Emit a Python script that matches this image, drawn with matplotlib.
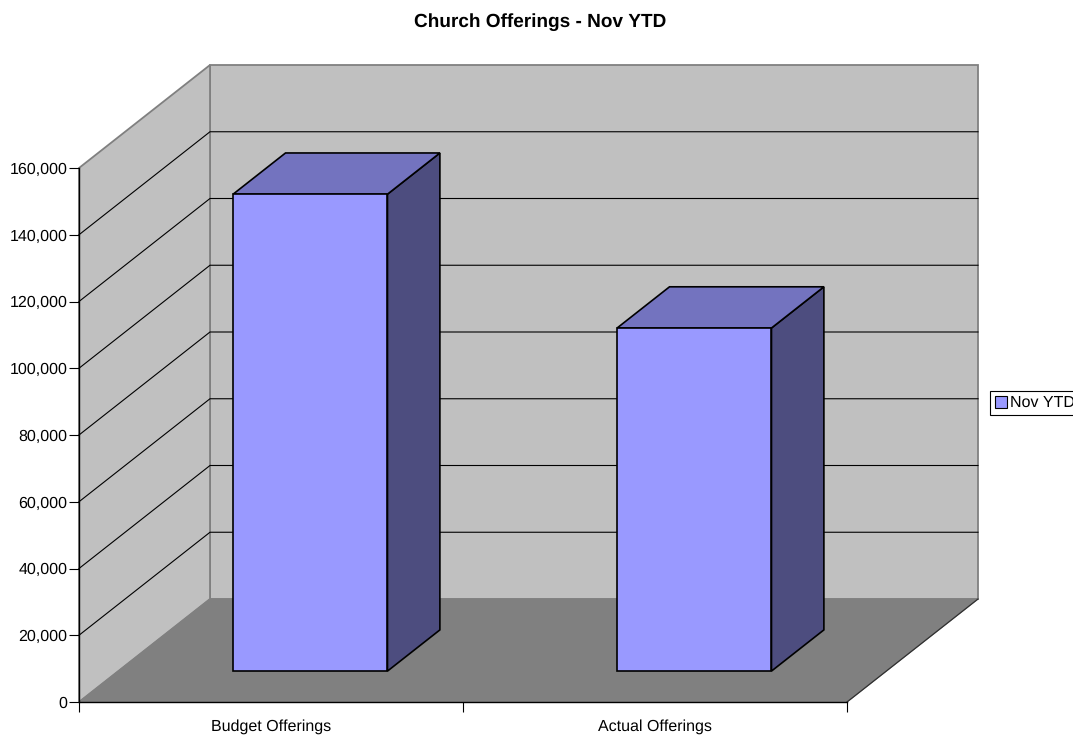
import matplotlib
matplotlib.use("Agg")
import matplotlib.pyplot as plt
from matplotlib.patches import Polygon, Patch

plt.rcParams['font.family'] = ['Liberation Sans', 'DejaVu Sans']
plt.rcParams['text.hinting'] = 'no_hinting'
plt.rcParams['text.hinting_factor'] = 1

categories = ['Budget Offerings', 'Actual Offerings']
values = [142900, 102800]
yticks = [0, 20000, 40000, 60000, 80000, 100000, 120000, 140000, 160000]
series_name = 'Nov YTD'

# oblique offset of the back wall, in data units
DX = 131 / 384
DY = 103 / (534 / 160000)
YMAX = yticks[-1]

def proj(x, v, d):
    return (x + DX * d, v + DY * d)

def face(ax, pts, fc, ec, lw, z):
    ax.add_patch(Polygon([proj(*p) for p in pts], closed=True, fc=fc, ec=ec, lw=lw,
                         zorder=z, clip_on=False, joinstyle='miter'))

fig = plt.figure(figsize=(10.73, 7.35), dpi=100)
ax = fig.add_axes([79 / 1073, 33 / 735, 768 / 1073, 534 / 735])
ax.set_xlim(0, 2)
ax.set_ylim(0, YMAX)
ax.patch.set_visible(False)

n = len(categories)

# walls and floor
wall = '#c0c0c0'
edge = '#808080'
face(ax, [(0, 0, 1), (n, 0, 1), (n, YMAX, 1), (0, YMAX, 1)], wall, edge, 1.3, 1)
face(ax, [(0, 0, 0), (0, 0, 1), (0, YMAX, 1), (0, YMAX, 0)], wall, edge, 1.3, 1)
face(ax, [(0, 0, 0), (n, 0, 0), (n, 0, 1), (0, 0, 1)], '#808080', '#808080', 0.8, 2)

# gridlines
for t in yticks[1:-1]:
    p = [proj(0, t, 0), proj(0, t, 1), proj(n, t, 1)]
    ax.plot([q[0] for q in p], [q[1] for q in p], color='black', lw=0.8, zorder=3,
            clip_on=False, solid_joinstyle='miter')

# floor front diagonal
p = [proj(n, 0, 0), proj(n, 0, 1)]
ax.plot([q[0] for q in p], [q[1] for q in p], color='#303030', lw=0.9, zorder=3, clip_on=False)

# bars
bar_w = 0.402
d0, d1 = 0.3, 0.7
for i, v in enumerate(values):
    x0 = i + 0.5 - bar_w / 2
    x1 = x0 + bar_w
    face(ax, [(x1, 0, d0), (x1, 0, d1), (x1, v, d1), (x1, v, d0)], '#4d4d7f', 'black', 1.2, 4)
    face(ax, [(x0, v, d0), (x1, v, d0), (x1, v, d1), (x0, v, d1)], '#7373bf', 'black', 1.2, 4)
    face(ax, [(x0, 0, d0), (x1, 0, d0), (x1, v, d0), (x0, v, d0)], '#9999ff', 'black', 1.2, 5)

# axes
for s in ['top', 'right']:
    ax.spines[s].set_visible(False)
for s in ['left', 'bottom']:
    ax.spines[s].set_linewidth(1.0)
    ax.spines[s].set_zorder(6)
ax.set_yticks(yticks)
ax.set_yticklabels([f'{t:,}' for t in yticks])
ax.set_xticks(range(n + 1))
ax.set_xticklabels([])
ax.set_xticks([i + 0.5 for i in range(n)], minor=True)
ax.set_xticklabels(categories, minor=True)
ax.tick_params(axis='y', length=7, width=0.8, labelsize=11.7, pad=1.5, colors='black')
ax.tick_params(axis='x', which='major', length=7, width=0.8)
ax.tick_params(axis='x', which='minor', length=0, labelsize=11.5, pad=12)

fig.text(540 / 1073, 1 - 22 / 735, 'Church Offerings - Nov YTD', ha='center', va='center',
         fontsize=13.95, fontweight='bold')

# legend box runs up to the right edge of the figure
leg = fig.legend(handles=[Patch(fc='#9999ff', ec='black', lw=0.8, label=series_name)],
                 loc='center left', bbox_to_anchor=(990 / 1073, 1 - 403 / 735), frameon=True,
                 fancybox=False, edgecolor='black', framealpha=1, fontsize=11.2,
                 borderaxespad=0, borderpad=0.3, handlelength=0.8, handleheight=0.8,
                 handletextpad=0.18)
leg.get_frame().set_linewidth(0.8)

fig.savefig('out.png', dpi=100)
